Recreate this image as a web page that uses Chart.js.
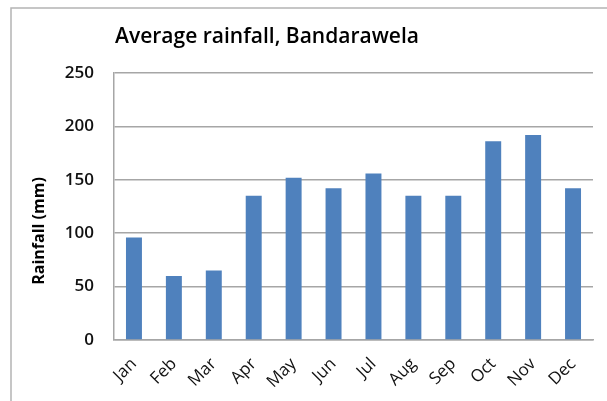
<!DOCTYPE html>
<html>
<head>
<meta charset="utf-8">
<script src="https://cdn.jsdelivr.net/npm/chart.js@4"></script>
<style>
  html, body { margin: 0; padding: 0; background: #fff; }
  #wrap { width: 607px; height: 401px; }
</style>
</head>
<body>
<div id="wrap"><canvas id="chart" width="607" height="401"></canvas></div>
<script>
// Average rainfall, Bandarawela (mm)
const months = ["Jan", "Feb", "Mar", "Apr", "May", "Jun", "Jul", "Aug", "Sep", "Oct", "Nov", "Dec"];
const rainfall = [96, 60, 65, 135, 152, 142, 156, 135, 135, 186, 192, 142];
const yTicks = [0, 50, 100, 150, 200, 250];
const chartTitle = "Average rainfall, Bandarawela";
const yTitle = "Rainfall (mm)";

const FONT = "'Open Sans', sans-serif";
const GRID = "#a6a6a6";

// outer frame + titles drawn at Excel-like positions
const decor = {
  id: "decor",
  beforeDraw(chart) {
    const ctx = chart.ctx;
    ctx.save();
    ctx.strokeStyle = "#b4b4b4";
    ctx.lineWidth = 1.5;
    ctx.strokeRect(11, 8, 700, 500);
    ctx.restore();
  },
  afterDraw(chart) {
    const ctx = chart.ctx;
    ctx.save();
    ctx.fillStyle = "#000";
    ctx.textAlign = "center";
    ctx.textBaseline = "middle";
    ctx.font = "600 21px " + FONT;
    ctx.fillText(chartTitle, 267, 37);
    ctx.translate(39, 231);
    ctx.rotate(-Math.PI / 2);
    ctx.font = "bold 16px " + FONT;
    ctx.fillText(yTitle, 0, 0);
    ctx.restore();
  },
};

new Chart(document.getElementById("chart"), {
  type: "bar",
  data: {
    labels: months,
    datasets: [{
      label: "Rainfall",
      data: rainfall,
      backgroundColor: "#4f81bd",
      borderWidth: 0,
      categoryPercentage: 1,
      barPercentage: 0.4,
    }],
  },
  options: {
    responsive: false,
    animation: false,
    devicePixelRatio: 1,
    layout: { padding: { left: 0, right: 14, top: 73, bottom: 0 } },
    plugins: { legend: { display: false }, title: { display: false }, tooltip: { enabled: false } },
    scales: {
      x: {
        grid: { display: false, drawTicks: false },
        border: { display: true, color: GRID, width: 1.5 },
        ticks: { color: "#111", font: { family: FONT, size: 17 }, minRotation: 45, maxRotation: 45, padding: 14 },
        afterFit(s) { s.height = 61; },
      },
      y: {
        min: 0,
        max: 250,
        afterBuildTicks(s) { s.ticks = yTicks.map((v) => ({ value: v })); },
        grid: { color: GRID, lineWidth: 1.5, drawTicks: false },
        border: { display: true, color: GRID, width: 1.5 },
        ticks: { color: "#111", font: { family: FONT, size: 17, weight: "600" }, padding: 20 },
        afterFit(s) { s.width = 114; },
      },
    },
  },
  plugins: [decor],
});
</script>
</body>
</html>
